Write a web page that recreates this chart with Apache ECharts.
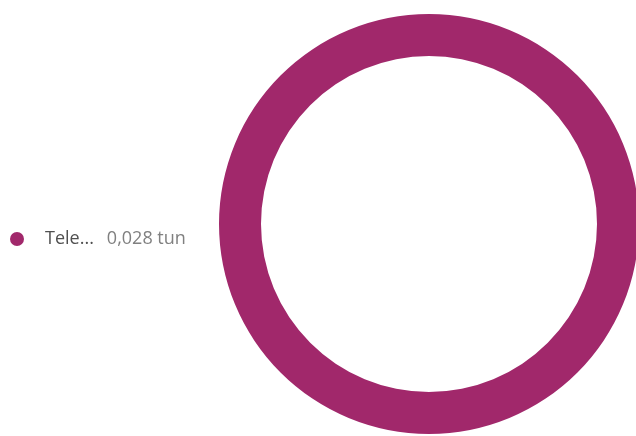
<!DOCTYPE html>
<html><head><meta charset="utf-8">
<script src="https://cdn.jsdelivr.net/npm/echarts@6/dist/echarts.min.js"></script>
<style>html,body{margin:0;padding:0;background:#fff}#c{width:636px;height:436px}</style>
</head><body><div id="c"></div>
<script>
const categories = ["Telekomunikasi"];
const values = [0.028];
const valueLabels = ["0,028 tun"];

const chart = echarts.init(document.getElementById('c'));
chart.setOption({
  animation: false,
  color: ['#a1286b'],
  legend: {
    orient: 'vertical',
    left: 5,
    top: 225,
    icon: 'circle',
    itemWidth: 14,
    itemHeight: 14,
    itemGap: 10,
    textStyle: {
      fontFamily: 'Open Sans',
      fontSize: 18,
      rich: {
        a: { color: '#505050', fontFamily: 'Open Sans', fontSize: 18, padding: [0, 13, 0, 16] },
        b: { color: '#808080', fontFamily: 'Open Sans', fontSize: 18 }
      }
    },
    formatter: function (name) {
      const i = categories.indexOf(name);
      return '{a|' + name.slice(0, 4) + '...}{b|' + valueLabels[i] + '}';
    },
    data: categories
  },
  series: [{
    type: 'pie',
    center: [429, 224],
    radius: [168, 210],
    silent: true,
    label: { show: false },
    labelLine: { show: false },
    data: categories.map((c, i) => ({ name: c, value: values[i] }))
  }]
});
</script></body></html>
